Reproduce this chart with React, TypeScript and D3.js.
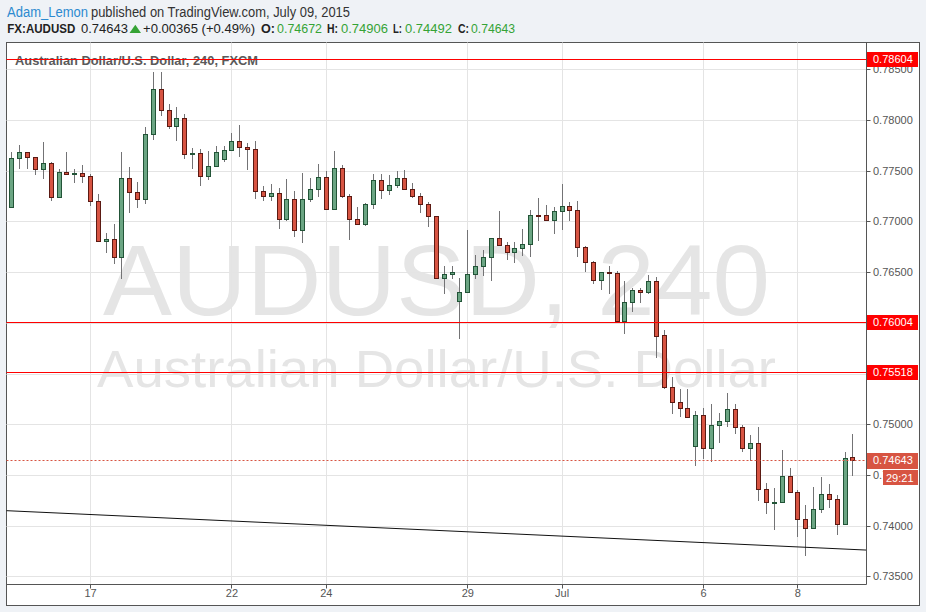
import React from "react";
import * as d3 from "d3";

const OPEN = [0.77139,0.77622,0.77682,0.77632,0.77514,0.77573,0.77244,0.77484,0.77465,0.77474,0.77445,0.77198,0.76804,0.76824,0.76646,0.77425,0.77287,0.77218,0.77859,0.78303,0.78096,0.77938,0.78017,0.77662,0.77672,0.77445,0.77543,0.77612,0.77701,0.77790,0.77731,0.77711,0.77297,0.77248,0.77277,0.77021,0.77218,0.76912,0.77218,0.77317,0.77435,0.77125,0.77524,0.77248,0.77021,0.76972,0.77169,0.77405,0.77307,0.77356,0.77425,0.77317,0.77248,0.77169,0.77051,0.76439,0.76479,0.76212,0.76301,0.76479,0.76558,0.76646,0.76834,0.76765,0.76696,0.76735,0.76774,0.77060,0.77060,0.77011,0.77100,0.77149,0.77110,0.76745,0.76597,0.76420,0.76498,0.76488,0.76021,0.76203,0.76321,0.76301,0.76410,0.75877,0.75364,0.75222,0.75157,0.74783,0.75088,0.74763,0.74990,0.75029,0.75148,0.74970,0.74763,0.74812,0.74359,0.74227,0.74231,0.74487,0.74329,0.74063,0.73974,0.74162,0.74310,0.74260,0.74014,0.74672];
const HIGH = [0.77687,0.77754,0.77684,0.77640,0.77786,0.77586,0.77517,0.77687,0.77520,0.77556,0.77471,0.77270,0.76886,0.76975,0.77687,0.77537,0.77389,0.77931,0.78473,0.78473,0.78161,0.78128,0.78059,0.77724,0.77714,0.77694,0.77744,0.77744,0.77872,0.77951,0.77770,0.77790,0.77346,0.77366,0.77333,0.77415,0.77297,0.77474,0.77428,0.77566,0.77497,0.77694,0.77556,0.77270,0.77142,0.77179,0.77468,0.77468,0.77455,0.77494,0.77507,0.77376,0.77277,0.77194,0.77054,0.76558,0.76558,0.76442,0.76912,0.76666,0.76715,0.76834,0.77100,0.76794,0.76794,0.76922,0.77110,0.77228,0.77159,0.77139,0.77369,0.77189,0.77198,0.76755,0.76605,0.76498,0.76558,0.76508,0.76410,0.76341,0.76341,0.76469,0.76455,0.75926,0.75463,0.75345,0.75348,0.75131,0.75157,0.75200,0.75108,0.75308,0.75200,0.74993,0.74894,0.74973,0.74418,0.74372,0.74743,0.74566,0.74352,0.74204,0.74379,0.74480,0.74408,0.74300,0.74724,0.74906];
const LOW = [0.77132,0.77520,0.77514,0.77458,0.77421,0.77204,0.77234,0.77465,0.77382,0.77382,0.77149,0.76800,0.76692,0.76583,0.76435,0.77086,0.77135,0.77175,0.77803,0.78042,0.77914,0.77796,0.77612,0.77520,0.77352,0.77411,0.77537,0.77589,0.77694,0.77632,0.77510,0.77218,0.77198,0.77198,0.76928,0.77001,0.76843,0.76784,0.77194,0.77244,0.77120,0.77122,0.77234,0.76820,0.76968,0.76952,0.77120,0.77224,0.77258,0.77327,0.77313,0.77228,0.77080,0.76948,0.76432,0.76287,0.76429,0.75838,0.76294,0.76429,0.76459,0.76410,0.76758,0.76617,0.76587,0.76656,0.76646,0.76804,0.77001,0.76873,0.76912,0.77001,0.76646,0.76498,0.76378,0.76321,0.76281,0.76018,0.75887,0.76110,0.76193,0.76281,0.75656,0.75348,0.75098,0.75074,0.75065,0.74591,0.74660,0.74625,0.74818,0.74970,0.74901,0.74724,0.74638,0.74240,0.74112,0.73960,0.74224,0.74322,0.73891,0.73704,0.73967,0.74122,0.74171,0.73905,0.74007,0.74492];
const CLOSE = [0.77622,0.77682,0.77632,0.77514,0.77573,0.77244,0.77484,0.77465,0.77474,0.77445,0.77198,0.76804,0.76824,0.76646,0.77425,0.77287,0.77218,0.77859,0.78303,0.78096,0.77938,0.78017,0.77662,0.77672,0.77445,0.77543,0.77682,0.77701,0.77790,0.77731,0.77711,0.77297,0.77248,0.77277,0.77021,0.77218,0.76912,0.77218,0.77317,0.77435,0.77125,0.77524,0.77248,0.77021,0.76972,0.77169,0.77405,0.77307,0.77356,0.77425,0.77317,0.77248,0.77169,0.77051,0.76439,0.76479,0.76498,0.76301,0.76479,0.76558,0.76646,0.76834,0.76765,0.76696,0.76735,0.76774,0.77060,0.77056,0.77011,0.77100,0.77149,0.77110,0.76745,0.76597,0.76420,0.76498,0.76488,0.76021,0.76203,0.76321,0.76301,0.76410,0.75873,0.75364,0.75222,0.75157,0.75069,0.75088,0.74763,0.74990,0.75029,0.75148,0.74970,0.74763,0.74812,0.74359,0.74231,0.74231,0.74487,0.74329,0.74063,0.73974,0.74162,0.74310,0.74260,0.74014,0.74670,0.74643];

const DAY_TICK_INDEX = [10, 28, 40, 58, 70, 88, 100];
const DAY_TICK_LABELS = ["17", "22", "24", "29", "Jul", "6", "8"];
const PRICE_TICKS = [0.735, 0.74, 0.745, 0.75, 0.755, 0.76, 0.765, 0.77, 0.775, 0.78, 0.785];
const LEVELS = [0.78604, 0.76004, 0.75518];
const TREND_INDEX = [0, 107];
const TREND_PRICE = [0.74145, 0.73765];
const LAST_PRICE = 0.74643;
const COUNTDOWN = "29:21";

const UP = "#6ba583", DOWN = "#d75442", UP_B = "#225437", DOWN_B = "#5b1a13", WICK = "#737375";
const FONT = "'Liberation Sans', Arial, sans-serif";

export default function App() {
  const W = 926, H = 612;
  const left = 6.5, right = 866.5, top = 42.5, bottom = 584.5, panelR = 919.5, panelB = 605.5;
  const x = d3.scaleLinear().domain([0, 107]).range([11.4, 11.4 + 107 * 7.86]);
  const y = d3.scaleLinear().domain([0.735, 0.785]).range([576.3, 69.3]);
  const n = OPEN.length;
  const idx = d3.range(n);
  const trend = d3.scaleLinear().domain(TREND_INDEX).range(TREND_PRICE);
  const iLeft = x.invert(left), iRight = x.invert(right);
  const green = "#35a335";

  return (
    <svg width={W} height={H} style={{ position: "absolute", left: 0, top: 0 }} fontFamily={FONT}>
      <rect x={0} y={0} width={W} height={H} fill="#eff2f6" />
      {/* header */}
      <text x={7} y={16.5} fontSize={14} fill="#2c8ad0" textLength={81} lengthAdjust="spacingAndGlyphs">Adam_Lemon</text>
      <text x={91} y={16.5} fontSize={14} fill="#333" textLength={259} lengthAdjust="spacingAndGlyphs">published on TradingView.com, July 09, 2015</text>
      <text x={7.3} y={33} fontSize={13} fontWeight="bold" fill="#222" textLength={68} lengthAdjust="spacingAndGlyphs">FX:AUDUSD</text>
      <text x={81} y={33} fontSize={13} fill="#222" textLength={47} lengthAdjust="spacingAndGlyphs">0.74643</text>
      <path d="M129.5,33 L135.3,24.8 L141,33 Z" fill={green} />
      <text x={143} y={33} fontSize={13} fill="#222" textLength={112} lengthAdjust="spacingAndGlyphs">+0.00365 (+0.49%)</text>
      <text x={261} y={33} fontSize={13} fontWeight="bold" fill="#222" textLength={14} lengthAdjust="spacingAndGlyphs">O:</text>
      <text x={277} y={33} fontSize={13} fill={green} textLength={45} lengthAdjust="spacingAndGlyphs">0.74672</text>
      <text x={327} y={33} fontSize={13} fontWeight="bold" fill="#222" textLength={11} lengthAdjust="spacingAndGlyphs">H:</text>
      <text x={341} y={33} fontSize={13} fill={green} textLength={47} lengthAdjust="spacingAndGlyphs">0.74906</text>
      <text x={393} y={33} fontSize={13} fontWeight="bold" fill="#222" textLength={9} lengthAdjust="spacingAndGlyphs">L:</text>
      <text x={405} y={33} fontSize={13} fill={green} textLength={47} lengthAdjust="spacingAndGlyphs">0.74492</text>
      <text x={458} y={33} fontSize={13} fontWeight="bold" fill="#222" textLength={11} lengthAdjust="spacingAndGlyphs">C:</text>
      <text x={471} y={33} fontSize={13} fill={green} textLength={44} lengthAdjust="spacingAndGlyphs">0.74643</text>

      {/* panel */}
      <rect x={left} y={top} width={panelR - left} height={panelB - top} fill="#fff" stroke="#555" />

      {/* watermark */}
      <text x={436.5} y={315} fontSize={100} fill="#e5e5e5" textAnchor="middle" textLength={667} lengthAdjust="spacingAndGlyphs">AUDUSD, 240</text>
      <text x={436.5} y={387} fontSize={51} fill="#e5e5e5" textAnchor="middle" textLength={679} lengthAdjust="spacingAndGlyphs">Australian Dollar/U.S. Dollar</text>

      {/* grid */}
      {PRICE_TICKS.map((p) => (
        <line key={"gh" + p} x1={left} x2={right} y1={Math.round(y(p)) + 0.5} y2={Math.round(y(p)) + 0.5} stroke="#e4e4e4" />
      ))}
      {DAY_TICK_INDEX.map((i) => (
        <line key={"gv" + i} x1={Math.round(x(i)) + 0.5} x2={Math.round(x(i)) + 0.5} y1={top} y2={bottom} stroke="#e4e4e4" />
      ))}

      <text x={15} y={64.5} fontSize={12} fontWeight="bold" fill="#5a5a5a" textLength={243} lengthAdjust="spacingAndGlyphs">Australian Dollar/U.S. Dollar, 240, FXCM</text>

      {/* candles */}
      {idx.map((i) => {
        const o = OPEN[i], c = CLOSE[i];
        const up = c >= o;
        const cx = Math.round(x(i));
        const yt = Math.round(y(Math.max(o, c)));
        const yb = Math.round(y(Math.min(o, c)));
        const h = Math.max(1, yb - yt);
        return (
          <g key={i}>
            <line x1={cx + 0.5} x2={cx + 0.5} y1={Math.round(y(HIGH[i]))} y2={Math.round(y(LOW[i]))} stroke={WICK} />
            <rect x={cx - 1.5} y={yt + 0.5} width={4} height={h} fill={up ? UP : DOWN} stroke={up ? UP_B : DOWN_B} />
          </g>
        );
      })}

      {/* trend line */}
      <line x1={left} y1={y(trend(iLeft))} x2={right} y2={y(trend(iRight))} stroke="#111" strokeWidth={1} />

      {/* levels */}
      {LEVELS.map((p) => (
        <line key={"lv" + p} x1={left} x2={right} y1={Math.round(y(p)) + 0.5} y2={Math.round(y(p)) + 0.5} stroke="#ff0000" />
      ))}
      <line x1={left} x2={right} y1={Math.round(y(LAST_PRICE)) + 0.5} y2={Math.round(y(LAST_PRICE)) + 0.5} stroke={DOWN} strokeDasharray="2 2" />

      {/* axes */}
      <line x1={right} x2={right} y1={top} y2={bottom} stroke="#555" />
      <line x1={left} x2={right} y1={bottom} y2={bottom} stroke="#555" />
      {PRICE_TICKS.map((p) => (
        <g key={"pt" + p}>
          <line x1={right} x2={right + 4} y1={Math.round(y(p)) + 0.5} y2={Math.round(y(p)) + 0.5} stroke="#555" />
          <text x={873} y={y(p) + 4} fontSize={11} fill="#555">{p.toFixed(5)}</text>
        </g>
      ))}
      {DAY_TICK_INDEX.map((i, k) => (
        <g key={"dt" + i}>
          <line x1={Math.round(x(i)) + 0.5} x2={Math.round(x(i)) + 0.5} y1={bottom} y2={bottom + 4} stroke="#555" />
          <text x={x(i) + 0.5} y={596.5} fontSize={11} fill="#555" textAnchor="middle">{DAY_TICK_LABELS[k]}</text>
        </g>
      ))}

      {/* price labels */}
      {LEVELS.map((p) => (
        <g key={"pl" + p}>
          <rect x={867} y={Math.round(y(p)) - 7} width={51} height={15} fill="#ff0000" />
          <text x={873} y={y(p) + 4} fontSize={11} fill="#fff">{p.toFixed(5)}</text>
        </g>
      ))}
      <rect x={867} y={Math.round(y(LAST_PRICE)) - 7} width={51} height={16} fill={DOWN} />
      <text x={873} y={y(LAST_PRICE) + 4} fontSize={11} fill="#fff">{LAST_PRICE.toFixed(5)}</text>
      <rect x={883} y={Math.round(y(LAST_PRICE)) + 10} width={35} height={15} fill={DOWN} />
      <text x={886} y={Math.round(y(LAST_PRICE)) + 21.5} fontSize={11} fill="#fff">{COUNTDOWN}</text>
    </svg>
  );
}
